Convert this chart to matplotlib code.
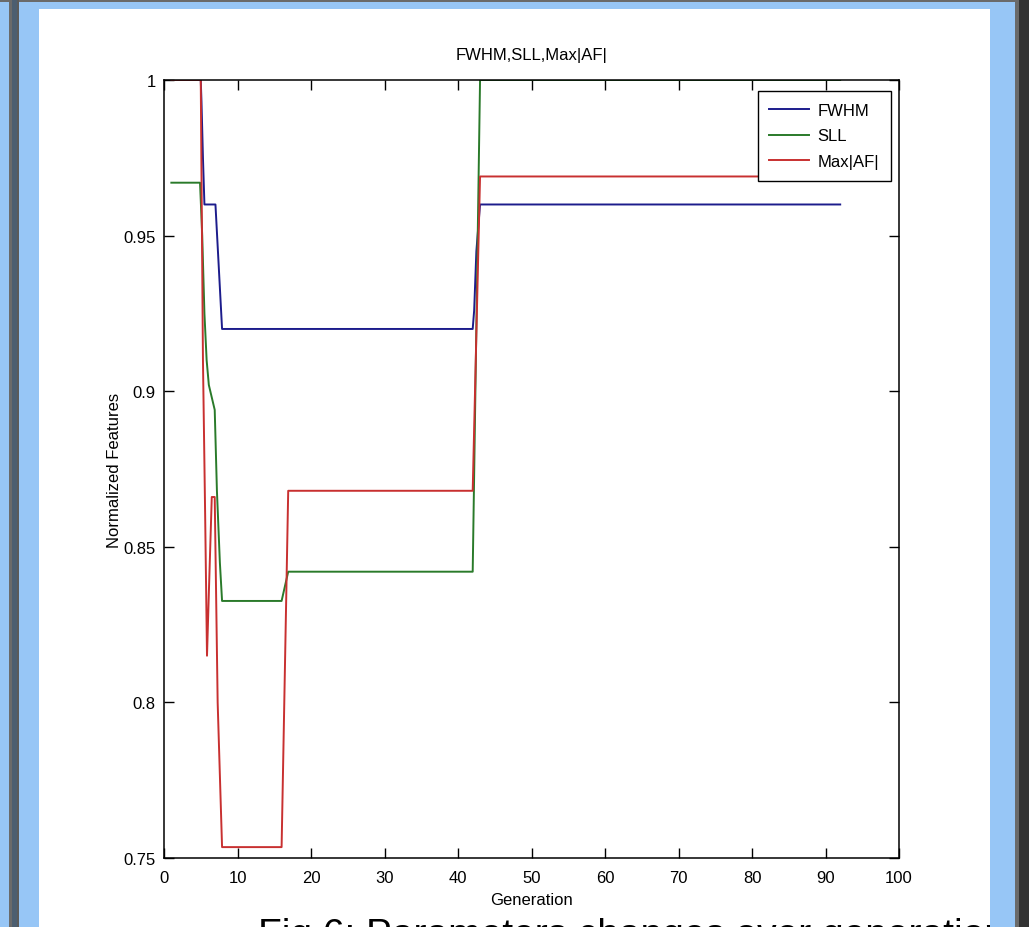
import matplotlib
matplotlib.use("Agg")
import matplotlib.pyplot as plt
from matplotlib.patches import Rectangle

# ---- data ----
gen_fwhm = [1, 5, 5.1, 5.3, 5.5, 7, 7.9, 42, 42.2, 42.5, 43, 92]
fwhm = [1.0, 1.0, 0.993, 0.975, 0.96, 0.96, 0.92, 0.92, 0.926, 0.945, 0.96, 0.96]

gen_sll = [1, 4.9, 5.2, 5.5, 5.8, 6.1, 6.9, 7.2, 7.6, 7.9, 16, 16.9, 42, 43, 92]
sll = [0.967, 0.967, 0.95, 0.925, 0.91, 0.902, 0.894, 0.868, 0.845, 0.8326,
       0.8326, 0.842, 0.842, 1.0, 1.0]

gen_maf = [1, 5, 5.3, 5.6, 5.85, 6.1, 6.5, 6.9, 7.3, 7.9, 16, 16.9, 42, 43, 92]
maf = [1.0, 1.0, 0.91, 0.86, 0.815, 0.835, 0.866, 0.866, 0.80, 0.7535,
       0.7535, 0.868, 0.868, 0.969, 0.969]

series_labels = ["FWHM", "SLL", "Max|AF|"]
x_ticks = [0, 10, 20, 30, 40, 50, 60, 70, 80, 90, 100]
y_ticks = [0.75, 0.8, 0.85, 0.9, 0.95, 1.0]
y_tick_labels = ["0.75", "0.8", "0.85", "0.9", "0.95", "1"]
title = "FWHM,SLL,Max|AF|"
xlabel = "Generation"
ylabel = "Normalized Features"
caption = "Fig.6: Parameters changes over generations"

FONT = ["Liberation Sans Narrow", "Liberation Sans", "DejaVu Sans"]
plt.rcParams["font.family"] = FONT

W, H = 1029, 928
fig = plt.figure(figsize=(W / 100, H / 100), dpi=100)

# ---- slide background ----
bg = fig.add_axes([0, 0, 1, 1], zorder=-5)
bg.set_xlim(0, W)
bg.set_ylim(H, 0)
bg.axis("off")
blue = "#97c6f6"
bg.add_patch(Rectangle((0, 0), W, H, color=blue, lw=0))
bg.add_patch(Rectangle((0, 0), W, 3, color="#6a6a6a", lw=0))
bg.add_patch(Rectangle((9, 0), 3, H, color="#6a6a6a", lw=0))
bg.add_patch(Rectangle((12, 0), 5, H, color="#4c5e70", lw=0))
bg.add_patch(Rectangle((17, 0), 2, H, color="#5a5a5a", lw=0))
bg.add_patch(Rectangle((1015, 0), 4, H, color="#6a6a6a", lw=0))
bg.add_patch(Rectangle((1019, 0), 10, H, color="#333333", lw=0))
panel = Rectangle((39, 10), 951, H - 10, color="white", lw=0)
bg.add_patch(panel)
cap = bg.text(258, 946, caption, fontsize=28, family=["Liberation Sans", "DejaVu Sans"],
              ha="left", va="baseline", color="black")
cap.set_clip_on(True)
cap.set_clip_path(panel)

# ---- main axes ----
ax = fig.add_axes([164 / W, 69 / H, 735 / W, 778 / H])
ax.plot(gen_fwhm, fwhm, color="#1c1c8c", lw=1.4, label=series_labels[0])
ax.plot(gen_sll, sll, color="#2a7a2a", lw=1.4, label=series_labels[1])
ax.plot(gen_maf, maf, color="#c83030", lw=1.4, label=series_labels[2])

ax.set_xlim(0, 100)
ax.set_ylim(0.75, 1.0)
ax.set_xticks(x_ticks)
ax.set_yticks(y_ticks)
ax.set_yticklabels(y_tick_labels)
ax.tick_params(direction="in", top=True, right=True, length=7, width=1,
               labelsize=12)
ax.tick_params(axis="x", pad=9)
ax.tick_params(axis="y", pad=6)
for s in ax.spines.values():
    s.set_linewidth(1.1)

ax.set_title(title, fontsize=12, pad=15)
ax.set_xlabel(xlabel, fontsize=12, labelpad=5)
ax.set_ylabel(ylabel, fontsize=12, labelpad=1)

leg = ax.legend(loc="upper right", bbox_to_anchor=(0.989, 0.986), borderaxespad=0,
                fancybox=False, framealpha=1, edgecolor="black", fontsize=12,
                handlelength=2.4, handletextpad=0.5, labelspacing=0.65,
                borderpad=0.7)
leg.get_frame().set_linewidth(1.0)

fig.savefig("out.png", dpi=100)
